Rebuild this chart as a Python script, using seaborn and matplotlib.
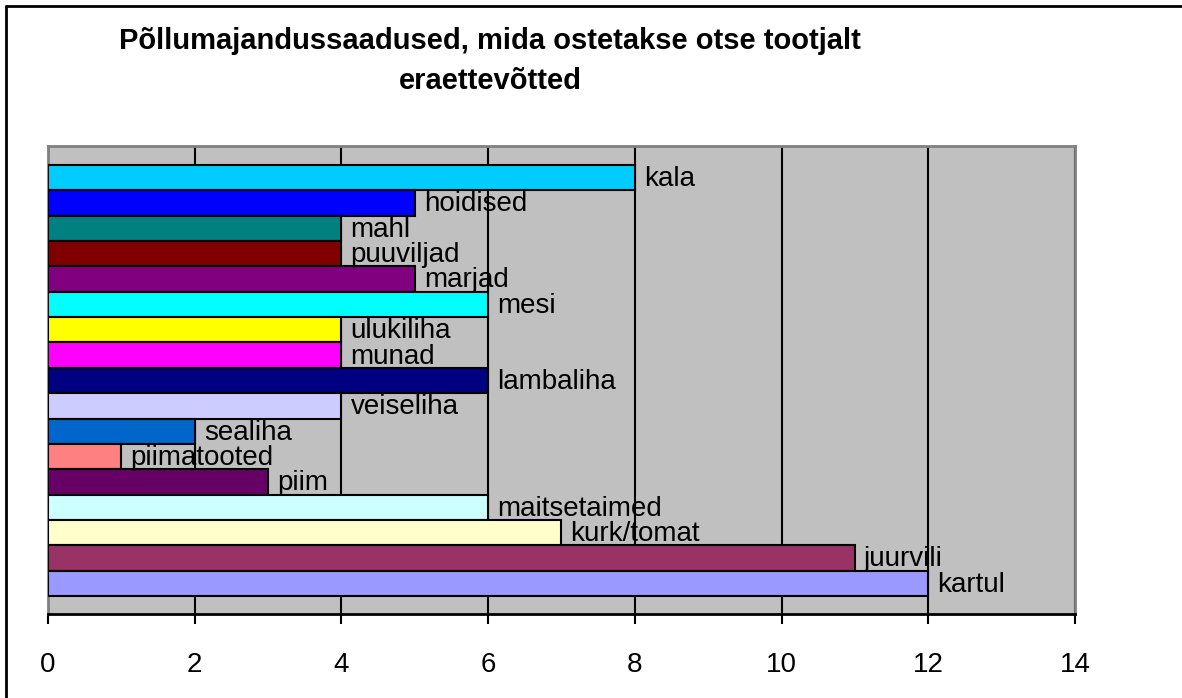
import matplotlib
matplotlib.use("Agg")
import matplotlib.pyplot as plt
from matplotlib.lines import Line2D
import seaborn as sns
import pandas as pd

# --- Data (top to bottom, as in the chart) ---
products = ["kala", "hoidised", "mahl", "puuviljad", "marjad", "mesi", "ulukiliha",
            "munad", "lambaliha", "veiseliha", "sealiha", "piimatooted", "piim",
            "maitsetaimed", "kurk/tomat", "juurvili", "kartul"]
counts = [8, 5, 4, 4, 5, 6, 4, 4, 6, 4, 2, 1, 3, 6, 7, 11, 12]
bar_colors = ["#00CCFF", "#0000FF", "#008080", "#800000", "#800080", "#00FFFF", "#FFFF00",
              "#FF00FF", "#000080", "#CCCCFF", "#0066CC", "#FF8080", "#660066",
              "#CCFFFF", "#FFFFCC", "#993366", "#9999FF"]
x_ticks = [0, 2, 4, 6, 8, 10, 12, 14]
title = "Põllumajandussaadused, mida ostetakse otse tootjalt\neraettevõtted"

df = pd.DataFrame({"toode": products, "arv": counts})

sns.set_style("white")
plt.rcParams["font.family"] = ["Liberation Sans", "DejaVu Sans"]
plt.rcParams["text.color"] = "black"

fig = plt.figure(figsize=(11.82, 6.98), dpi=100)
ax = fig.add_axes([48 / 1182, 1 - 614 / 698, (1075 - 48) / 1182, (614 - 146) / 698])
ax.set_facecolor("#C0C0C0")

sns.barplot(data=df, x="arv", y="toode", hue="toode", palette=bar_colors,
            orient="h", width=1.0, edgecolor="black", linewidth=1.5, saturation=1,
            legend=False, ax=ax, zorder=3)

# vertical grid lines in black behind the bars
ax.set_axisbelow(True)
ax.xaxis.grid(True, color="black", linewidth=1.5, zorder=0)
ax.yaxis.grid(False)

ax.set_xlim(0, 14)
ax.set_ylim(len(products) - 0.5 + 0.71, -0.5 - 0.75)
ax.set_xticks(x_ticks)
ax.set_yticks([])
ax.set_xlabel("")
ax.set_ylabel("")
ax.tick_params(axis="x", direction="out", length=7, width=1.5, color="black",
               labelcolor="black", labelsize=20, pad=20, bottom=True)

for side in ["top", "right", "left"]:
    ax.spines[side].set_color("#808080")
    ax.spines[side].set_linewidth(2)
ax.spines["bottom"].set_color("black")
ax.spines["bottom"].set_linewidth(2)

# labels next to bar ends
for i, (name, val) in enumerate(zip(products, counts)):
    ax.annotate(name, xy=(val, i), xytext=(6.5, -1), textcoords="offset points",
                ha="left", va="center", fontsize=20, color="black", zorder=4)

fig.text(490 / 1182, 1 - 61 / 698, title, ha="center", va="center", color="black",
         fontsize=21, fontweight="bold", linespacing=1.55)

# chart frame (left and top edges visible)
fig.add_artist(Line2D([6 / 1182, 6 / 1182], [0, 1 - 6 / 698], color="black", linewidth=2,
                      transform=fig.transFigure))
fig.add_artist(Line2D([6 / 1182, 1], [1 - 6 / 698, 1 - 6 / 698], color="black", linewidth=2,
                      transform=fig.transFigure))

fig.savefig("out.png", dpi=100)
plt.close(fig)
